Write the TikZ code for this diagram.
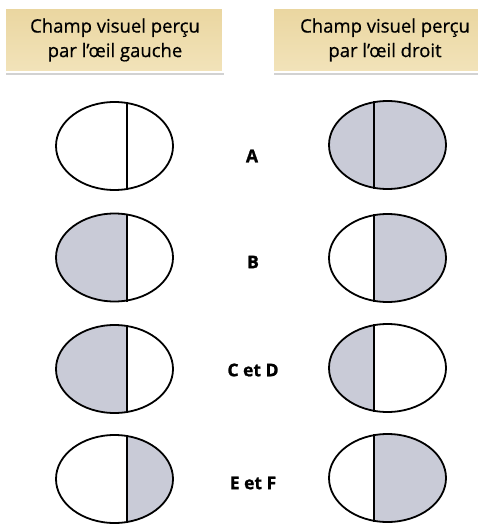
\documentclass[tikz,border=0pt]{standalone}
\usepackage{fontspec}
\setmainfont{Open Sans}
\newfontfamily\hdrfont[FakeBold=0.6]{Open Sans}
\newfontfamily\lblfont[FakeBold=1.2]{Open Sans Bold}
\usetikzlibrary{shadows}
\definecolor{hdrtop}{RGB}{234,214,160}
\definecolor{hdrbot}{RGB}{242,227,186}
\definecolor{fieldgray}{RGB}{201,203,215}
\tikzset{
  hdrbox/.style={draw=white, line width=1.2pt, top color=hdrtop, bottom color=hdrbot,
    drop shadow={opacity=0.35, shadow xshift=1pt, shadow yshift=-3pt}},
  hdrtext/.style={font=\hdrfont\fontsize{18.5}{24.5}\selectfont, align=center, text=black},
  lbl/.style={font=\lblfont\fontsize{17.5}{20}\selectfont, text=black},
  eyeline/.style={line width=1.8pt, draw=black},
  divline/.style={line width=1.4pt, draw=black},
}
% eye fields: \eyefield{cx}{cy}{divider x}{fill x1}{fill x2}
\newcommand\eyefield[5]{%
  \begin{scope}
    \clip (#1,#2) ellipse [x radius=58.5, y radius=44];
    \fill[fieldgray] (#4,#2-50) rectangle (#5,#2+50);
  \end{scope}
  \draw[divline] (#3,#2-44) -- (#3,#2+44);
  \draw[eyeline] (#1,#2) ellipse [x radius=58.5, y radius=44];
}
\begin{document}
\begin{tikzpicture}[x=1pt,y=-1pt]
\clip (0,0) rectangle (478,529);
\fill[white] (0,0) rectangle (478,529);
% headers
\path[hdrbox] (5,8) rectangle (223,72);
\path[hdrbox] (273,8) rectangle (500,72);
\node[hdrtext] (hl) at (115,40) {Champ visuel perçu\\par l’œil gauche};
\node[hdrtext] (hr) at (385,40) {Champ visuel perçu\\par l’œil droit};
% row A
\eyefield{114.5}{146}{127}{0}{0}
\eyefield{387.5}{145}{374}{320}{460}
% row B
\eyefield{114.5}{257.5}{127}{50}{127}
\eyefield{387.5}{258}{374}{374}{460}
% row C et D
\eyefield{114.5}{369}{127}{50}{127}
\eyefield{387.5}{368}{374}{320}{374}
% row E et F
\eyefield{114.5}{479}{127}{127}{180}
\eyefield{387.5}{478}{374}{374}{460}
% labels
\node[lbl] (la) at (252,156) {A};
\node[lbl] (lb) at (253,262) {B};
\node[lbl] (lc) at (253,370) {C et D};
\node[lbl] (le) at (253,483) {E et F};
\end{tikzpicture}
\end{document}
